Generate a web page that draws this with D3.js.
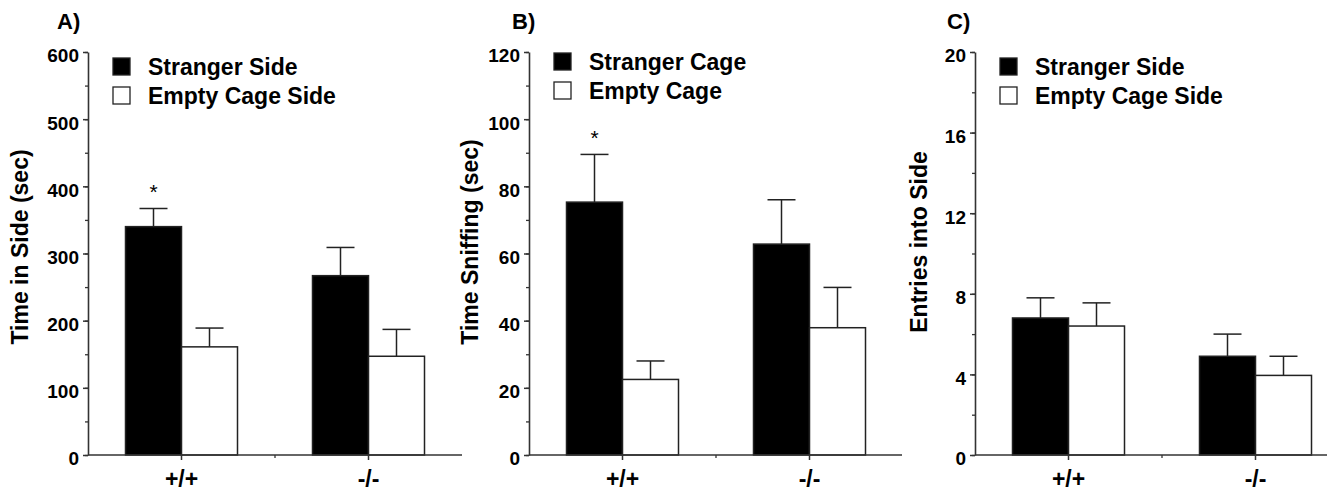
<!DOCTYPE html>
<html>
<head>
<meta charset="utf-8">
<script src="https://cdn.jsdelivr.net/npm/d3@7"></script>
<style>
  body { margin: 0; background: #fff; }
  svg { display: block; font-family: "Liberation Sans", Arial, sans-serif; }
</style>
</head>
<body>
<svg id="chart" width="1334" height="491"></svg>
<script>
// genotypes on the x axis
var groups = ["+/+", "-/-"];

// A) time in side (sec)
var sideStranger = [340, 267],
    sideStrangerErr = [27, 42],
    sideEmpty = [161, 147],
    sideEmptyErr = [28, 40];

// B) time sniffing (sec)
var sniffStranger = [75.3, 62.8],
    sniffStrangerErr = [14.2, 13.2],
    sniffEmpty = [22.5, 37.9],
    sniffEmptyErr = [5.5, 12.0];

// C) entries into side
var entStranger = [6.8, 4.9],
    entStrangerErr = [1.0, 1.1],
    entEmpty = [6.4, 3.95],
    entEmptyErr = [1.15, 0.95];

var ticksA = [0, 100, 200, 300, 400, 500, 600],
    ticksB = [0, 20, 40, 60, 80, 100, 120],
    ticksC = [0, 4, 8, 12, 16, 20];

var panels = [
  {letter: "A)", title: "Time in Side (sec)", legend: ["Stranger Side", "Empty Cage Side"],
   s: sideStranger, se: sideStrangerErr, e: sideEmpty, ee: sideEmptyErr,
   ticks: ticksA, minor: 50, star: true,
   ax: 88, axLen: 374, letterDx: -31, titleDx: -60, titleCy: 247, legY: 58},
  {letter: "B)", title: "Time Sniffing (sec)", legend: ["Stranger Cage", "Empty Cage"],
   s: sniffStranger, se: sniffStrangerErr, e: sniffEmpty, ee: sniffEmptyErr,
   ticks: ticksB, minor: 10, star: true,
   ax: 529, axLen: 373, letterDx: -17, titleDx: -51, titleCy: 242, legY: 53},
  {letter: "C)", title: "Entries into Side", legend: ["Stranger Side", "Empty Cage Side"],
   s: entStranger, se: entStrangerErr, e: entEmpty, ee: entEmptyErr,
   ticks: ticksC, minor: 2, star: false,
   ax: 975, axLen: 352, letterDx: -28, titleDx: -48, titleCy: 242, legY: 58}
];

var y0 = 455, yTop = 52, barW = 56;
var svg = d3.select("#chart");

panels.forEach(function(p) {
  var g = svg.append("g").attr("transform", "translate(" + p.ax + ",0)");
  var top = p.ticks[p.ticks.length - 1];
  var y = d3.scaleLinear().domain([0, top]).range([y0, yTop]);
  var x = d3.scaleBand().domain(groups).range([0, 374]);

  // bars with upward error bars
  var series = [
    {v: p.s, err: p.se, off: -barW, fill: "#000"},
    {v: p.e, err: p.ee, off: 0, fill: "#fff"}
  ];
  series.forEach(function(s) {
    var bg = g.append("g");
    groups.forEach(function(gr, i) {
      var cx = x(gr) + x.bandwidth() / 2 + s.off;
      var mid = cx + barW / 2;
      var cap = y(s.v[i] + s.err[i]);
      bg.append("line")
        .attr("x1", mid).attr("x2", mid)
        .attr("y1", y(s.v[i])).attr("y2", cap)
        .attr("stroke", "#222").attr("stroke-width", 1.5);
      bg.append("line")
        .attr("x1", mid - 14).attr("x2", mid + 14)
        .attr("y1", cap).attr("y2", cap)
        .attr("stroke", "#222").attr("stroke-width", 1.5);
      bg.append("rect")
        .attr("x", cx).attr("y", y(s.v[i]))
        .attr("width", barW).attr("height", y0 - y(s.v[i]))
        .attr("fill", s.fill)
        .attr("stroke", "#222").attr("stroke-width", 1.5);
      if (p.star && s.off < 0 && i === 0) {
        g.append("text")
          .attr("x", mid).attr("y", cap - 9)
          .attr("text-anchor", "middle")
          .attr("font-size", 21)
          .text("*");
      }
    });
  });

  // y axis: minor ticks then major ticks with labels
  var minorVals = d3.range(0, top + 0.001, p.minor);
  g.append("g").call(d3.axisLeft(y).tickValues(minorVals).tickSize(3).tickFormat(""))
    .call(function(a) { a.select(".domain").remove(); })
    .selectAll("line").attr("stroke", "#333").attr("stroke-width", 1.3);
  var ya = g.append("g").call(d3.axisLeft(y).tickValues(p.ticks).tickSizeInner(5).tickSizeOuter(0).tickPadding(4));
  ya.select(".domain").attr("stroke", "#333").attr("stroke-width", 1.6);
  ya.selectAll(".tick line").attr("stroke", "#333").attr("stroke-width", 1.5);
  ya.selectAll(".tick text")
    .attr("font-family", "Liberation Sans, Arial, sans-serif")
    .attr("font-size", 19).attr("font-weight", "bold").attr("fill", "#000")
    .attr("dy", "0.52em");

  // x axis
  var xa = g.append("g").attr("transform", "translate(0," + y0 + ")")
    .call(d3.axisBottom(x).tickSizeInner(5).tickSizeOuter(0).tickPadding(11));
  xa.select(".domain").attr("d", "M0,0H" + p.axLen).attr("stroke", "#333").attr("stroke-width", 1.6);
  xa.selectAll(".tick line").attr("stroke", "#333").attr("stroke-width", 1.5);
  xa.selectAll(".tick text")
    .attr("font-family", "Liberation Sans, Arial, sans-serif")
    .attr("font-size", 23).attr("font-weight", "bold").attr("fill", "#000")
    .attr("dy", "0.71em");
  xa.append("line")
    .attr("x1", x.step()).attr("x2", x.step())
    .attr("y1", 0).attr("y2", 3)
    .attr("stroke", "#333").attr("stroke-width", 1.3);

  // panel letter
  g.append("text")
    .attr("x", p.letterDx).attr("y", 29)
    .attr("font-size", 22).attr("font-weight", "bold")
    .text(p.letter);

  // y title
  g.append("text")
    .attr("transform", "translate(" + p.titleDx + "," + p.titleCy + ") rotate(-90)")
    .attr("text-anchor", "middle")
    .attr("font-size", 23).attr("font-weight", "bold")
    .text(p.title);

  // legend
  p.legend.forEach(function(lab, i) {
    var ly = p.legY + i * 29;
    g.append("rect")
      .attr("x", 25).attr("y", ly)
      .attr("width", 17).attr("height", 17)
      .attr("fill", i === 0 ? "#000" : "#fff")
      .attr("stroke", "#222").attr("stroke-width", 1.3);
    g.append("text")
      .attr("x", 60).attr("y", ly + 17)
      .attr("font-size", 23).attr("font-weight", "bold")
      .text(lab);
  });
});
</script>
</body>
</html>
